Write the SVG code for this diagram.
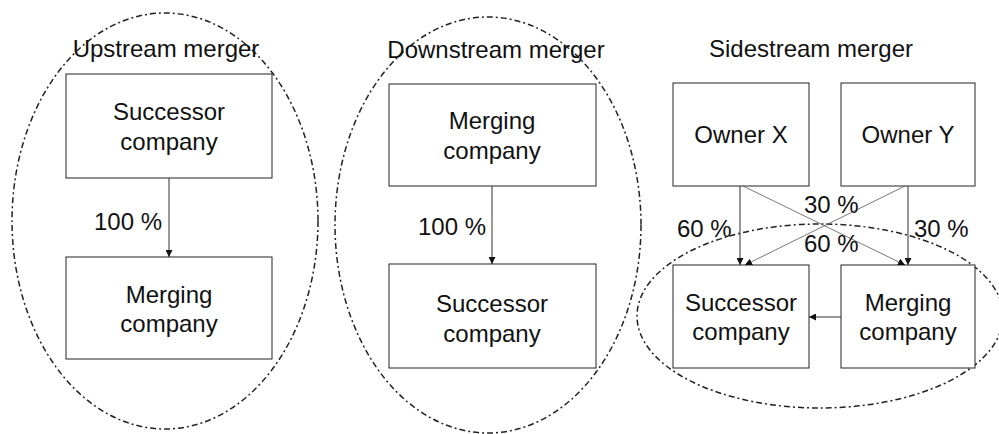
<svg xmlns="http://www.w3.org/2000/svg" width="999" height="434" viewBox="0 0 999 434">
<style>
.bg{fill:#fff}
.box{fill:#fff;stroke:#222;stroke-width:1}
.t{font-family:"Liberation Sans",Arial,sans-serif;font-size:24px;fill:#111;text-anchor:middle}
.lbl{font-family:"Liberation Sans",Arial,sans-serif;font-size:24px;fill:#111}
.grp{fill:none;stroke:#222;stroke-width:1.5;stroke-dasharray:6 3 2 3}
.c{fill:none;stroke:#333;stroke-width:1}
.d{fill:none;stroke:#555;stroke-width:0.8}
</style>
<defs>
<marker id="ah" viewBox="0 0 10 10" refX="10" refY="5" markerWidth="7" markerHeight="7" markerUnits="userSpaceOnUse" orient="auto">
<path d="M0,0 L10,5 L0,10 z" fill="#111"/>
</marker>
</defs>
<rect class="bg" width="999" height="434"/>
<g id="groups">
<ellipse class="grp" cx="165" cy="221" rx="153" ry="208"/>
<ellipse class="grp" cx="488" cy="225" rx="153" ry="208"/>
<ellipse class="grp" cx="820" cy="316" rx="183" ry="92"/>
</g>
<g id="titles">
<text class="t" x="166" y="57">Upstream merger</text>
<text class="t" x="496" y="58">Downstream merger</text>
<text class="t" x="811" y="57">Sidestream merger</text>
</g>
<g id="up-successor">
<rect class="box" x="66" y="74" width="206" height="104"/>
<text class="t" x="169" y="120">Successor</text>
<text class="t" x="169" y="150">company</text>
</g>
<g id="up-merging">
<rect class="box" x="66" y="257" width="206" height="102"/>
<text class="t" x="169" y="303">Merging</text>
<text class="t" x="169" y="332">company</text>
</g>
<g id="down-merging">
<rect class="box" x="389" y="84" width="207" height="102"/>
<text class="t" x="492" y="129">Merging</text>
<text class="t" x="492" y="159">company</text>
</g>
<g id="down-successor">
<rect class="box" x="389" y="264" width="207" height="104"/>
<text class="t" x="492" y="312">Successor</text>
<text class="t" x="492" y="342">company</text>
</g>
<g id="owner-x">
<rect class="box" x="673" y="83" width="136" height="103"/>
<text class="t" x="741" y="143">Owner X</text>
</g>
<g id="owner-y">
<rect class="box" x="841" y="83" width="134" height="103"/>
<text class="t" x="908" y="143">Owner Y</text>
</g>
<g id="side-successor">
<rect class="box" x="673" y="265" width="136" height="103"/>
<text class="t" x="741" y="311">Successor</text>
<text class="t" x="741" y="340">company</text>
</g>
<g id="side-merging">
<rect class="box" x="841" y="265" width="134" height="103"/>
<text class="t" x="908" y="311">Merging</text>
<text class="t" x="908" y="340">company</text>
</g>
<g id="connectors">
<line class="c" x1="169" y1="178" x2="169" y2="257" marker-end="url(#ah)"/>
<line class="c" x1="492" y1="186" x2="492" y2="264" marker-end="url(#ah)"/>
<line class="c" x1="740" y1="186" x2="740" y2="265" marker-end="url(#ah)"/>
<line class="c" x1="908" y1="186" x2="908" y2="265" marker-end="url(#ah)"/>
<line class="d" x1="743" y1="186" x2="905" y2="265" marker-end="url(#ah)"/>
<line class="d" x1="905" y1="186" x2="745" y2="265" marker-end="url(#ah)"/>
<line class="c" x1="841" y1="317" x2="809" y2="317" marker-end="url(#ah)"/>
</g>
<g id="labels">
<text class="lbl" x="94" y="230">100 %</text>
<text class="lbl" x="418" y="235">100 %</text>
<text class="lbl" x="677" y="237">60 %</text>
<text class="lbl" x="804" y="213">30 %</text>
<text class="lbl" x="804" y="252">60 %</text>
<text class="lbl" x="914" y="237">30 %</text>
</g>
</svg>
